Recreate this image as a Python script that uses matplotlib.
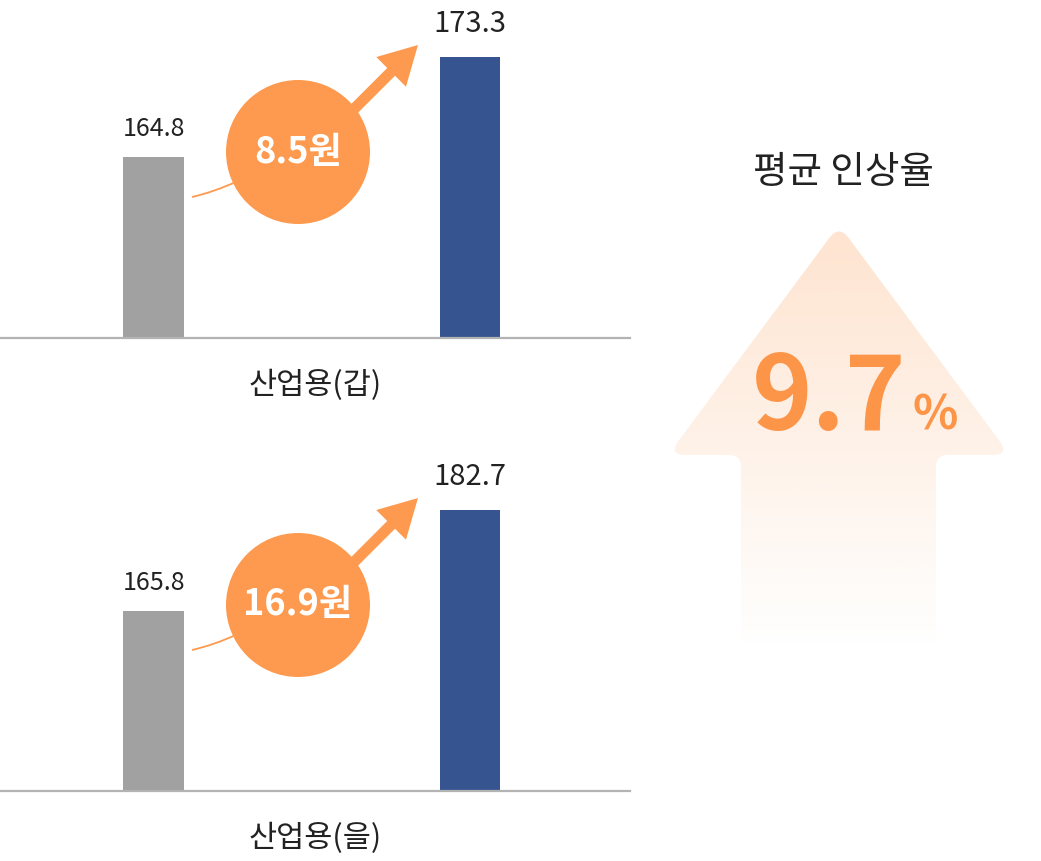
import numpy as np
import matplotlib
matplotlib.use("Agg")
import matplotlib.pyplot as plt
from matplotlib.path import Path
from matplotlib.patches import PathPatch, Circle, FancyArrow

plt.rcParams['font.family'] = ['Noto Sans CJK KR', 'DejaVu Sans']

# 데이터
panels = ['산업용(갑)', '산업용(을)']
before = [164.8, 165.8]
after = [173.3, 182.7]
diff_labels = ['8.5원', '16.9원']
avg_title = '평균 인상율'
avg_rate = '9.7'

# 패널별 y축 범위 (막대 높이 비율 맞춤)
ylims = [(149.4, 178.15), (135.68, 192.24)]

GRAY = '#a0a1a0'
BLUE = '#36548f'
ORANGE = '#fd9a4f'
TEXT = '#222222'

W, H = 1041, 861
fig = plt.figure(figsize=(W / 100, H / 100), dpi=100)

# 전체를 덮는 장식용 축 (픽셀 좌표)
ov = fig.add_axes([0, 0, 1, 1], zorder=2)
ov.axis('off')


def rounded_path(pts, radii):
    verts, codes = [], []
    n = len(pts)
    for i in range(n):
        p = np.array(pts[i], float)
        prev = np.array(pts[i - 1], float)
        nxt = np.array(pts[(i + 1) % n], float)
        r = radii[i]
        if r == 0:
            verts.append(p)
            codes.append(Path.LINETO)
        else:
            a = p + (prev - p) / np.linalg.norm(prev - p) * r
            b = p + (nxt - p) / np.linalg.norm(nxt - p) * r
            verts += [a, p, b]
            codes += [Path.LINETO, Path.CURVE3, Path.CURVE3]
    codes[0] = Path.MOVETO
    verts.append(verts[0])
    codes.append(Path.CLOSEPOLY)
    return Path(verts, codes)


offsets = [0, 453]
for i, name in enumerate(panels):
    dy = offsets[i]
    ax = fig.add_axes([0, (H - 338 - dy) / H, 630 / W, 338 / H], zorder=1)
    ax.bar([0, 1], [before[i], after[i]], width=0.19, color=[GRAY, BLUE],
           bottom=0)
    ax.set_xlim(-0.485, 1.5055)
    ax.set_ylim(*ylims[i])
    ax.axhline(ylims[i][0], color='#b3b3b3', lw=1.6, clip_on=False)
    ax.axis('off')

    ax.annotate(f'{before[i]:.1f}', (0, before[i]), xytext=(0, 11),
                textcoords='offset points', ha='center', va='bottom',
                fontsize=18, color=TEXT)
    ax.annotate(f'{after[i]:.1f}', (1, after[i]), xytext=(0, 13),
                textcoords='offset points', ha='center', va='bottom',
                fontsize=21, color=TEXT)
    ax.text(0.5, -47 / 338, name, transform=ax.transAxes, ha='center',
            va='center', fontsize=22, color=TEXT)

    # 증가 표시: 가는 선 + 원 + 화살표
    line = Path([(192, 197 + dy), (214, 192 + dy), (238, 181 + dy)],
                [Path.MOVETO, Path.CURVE3, Path.CURVE3])
    ov.add_patch(PathPatch(line, fc='none', ec=ORANGE, lw=1.3))
    ov.add_patch(FancyArrow(335, 128 + dy, 418 - 335, 45 - 128, width=11,
                            head_width=42, head_length=38,
                            length_includes_head=True, color=ORANGE,
                            lw=0, zorder=2))
    ov.add_patch(Circle((298, 152 + dy), 72, color=ORANGE, lw=0, zorder=3))
    ov.text(298, 152 + dy, diff_labels[i], ha='center', va='center',
            fontsize=26, fontweight='bold', color='white', zorder=4)

# 오른쪽 평균 인상율 화살표
arrow_pts = [(839, 225), (1010, 455), (936, 455), (936, 665),
             (741, 665), (741, 455), (668, 455)]
arrow_r = [16, 18, 12, 0, 0, 12, 18]
shape = PathPatch(rounded_path(arrow_pts, arrow_r), fc='none', ec='none')
ov.add_patch(shape)

ys = np.linspace(220, 665, 300)
alpha = np.clip(0.26 * (650 - ys) / (650 - 225), 0, 1)
grad = np.zeros((len(ys), 2, 4))
grad[..., 0] = 253 / 255
grad[..., 1] = 149 / 255
grad[..., 2] = 72 / 255
grad[..., 3] = alpha[:, None]
img = ov.imshow(grad, extent=(660, 1020, 665, 220), origin='upper',
                aspect='auto', interpolation='bilinear', zorder=1)
img.set_clip_path(shape)

ov.text(843, 173, avg_title, ha='center', va='center', fontsize=27,
        color=TEXT)
ov.text(906, 430, avg_rate, ha='right', va='baseline', fontsize=74,
        fontweight='bold', color='#fd9548')
ov.text(913, 430, '%', ha='left', va='baseline', fontsize=34,
        fontweight='bold', color='#fd9548')

ov.set_xlim(0, W)
ov.set_ylim(H, 0)

fig.savefig('out.png', dpi=100, facecolor='white')
